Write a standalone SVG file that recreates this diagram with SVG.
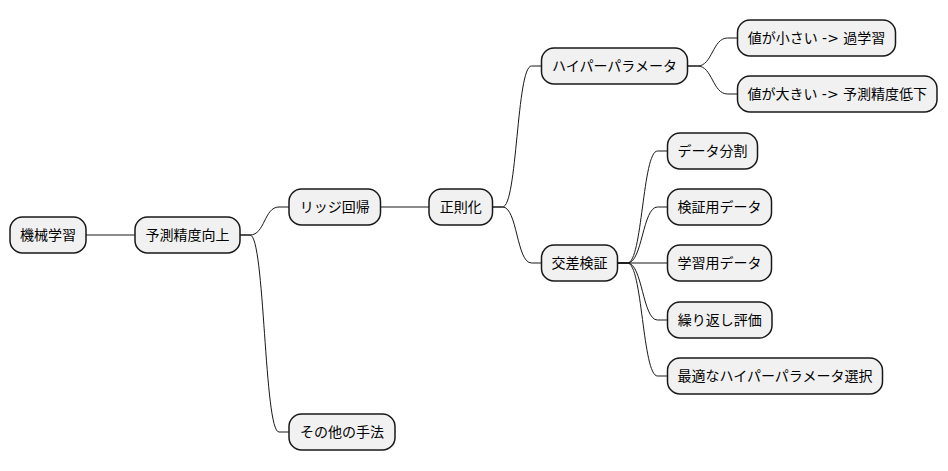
<svg xmlns="http://www.w3.org/2000/svg" width="948" height="471" viewBox="0 0 948 471">
<style>
.n rect{fill:#F1F1F1;stroke:#181818;stroke-width:1.5}
.n text{font-family:"DejaVu Sans","Noto Sans CJK JP",sans-serif;font-size:14px;fill:#000;text-anchor:middle}
.c path{fill:none;stroke:#181818;stroke-width:1}
</style>
<rect width="948" height="471" fill="#FFFFFF"/>
<g class="c" id="connectors">
<path d="M86,235 L135,235"/>
<path d="M240,235 L250,235 C265,235 264,207 279,207 L289,207"/>
<path d="M240,235 L250,235 C265,235 264,432 279,432 L289,432"/>
<path d="M380.5,207 L429,207"/>
<path d="M492.5,207 L502.5,207 C517.5,207 516.5,66 531.5,66 L541.5,66"/>
<path d="M492.5,207 L502.5,207 C517.5,207 516.5,263 531.5,263 L541.5,263"/>
<path d="M687.5,66 L697.5,66 C712.5,66 712.5,38 727.5,38 L737.5,38"/>
<path d="M687.5,66 L697.5,66 C712.5,66 712.5,94 727.5,94 L737.5,94"/>
<path d="M617.5,263 L627.5,263 C642.5,263 642.5,151 657.5,151 L667.5,151"/>
<path d="M617.5,263 L627.5,263 C642.5,263 642.5,207 657.5,207 L667.5,207"/>
<path d="M617.5,263 L667.5,263"/>
<path d="M617.5,263 L627.5,263 C642.5,263 642.5,320 657.5,320 L667.5,320"/>
<path d="M617.5,263 L627.5,263 C642.5,263 642.5,376 657.5,376 L667.5,376"/>
</g>
<g class="n" id="n1"><rect x="10" y="217" width="76" height="36" rx="12.5"/><text x="48" y="240">機械学習</text></g>
<g class="n" id="n2"><rect x="135" y="217" width="105" height="36" rx="12.5"/><text x="187.5" y="240">予測精度向上</text></g>
<g class="n" id="n3"><rect x="289" y="189" width="91.5" height="36" rx="12.5"/><text x="334.75" y="212">リッジ回帰</text></g>
<g class="n" id="n4"><rect x="429" y="189" width="63.5" height="36" rx="12.5"/><text x="460.75" y="212">正則化</text></g>
<g class="n" id="n5"><rect x="541.5" y="48" width="146" height="36" rx="12.5"/><text x="614.5" y="71">ハイパーパラメータ</text></g>
<g class="n" id="n6"><rect x="737.5" y="20" width="158" height="36" rx="12.5"/><text x="816.5" y="43">値が小さい -&gt; 過学習</text></g>
<g class="n" id="n7"><rect x="737.5" y="76" width="199.5" height="36" rx="12.5"/><text x="837.25" y="99">値が大きい -&gt; 予測精度低下</text></g>
<g class="n" id="n8"><rect x="541.5" y="245" width="76" height="36" rx="12.5"/><text x="579.5" y="268">交差検証</text></g>
<g class="n" id="n9"><rect x="667.5" y="133" width="90" height="36" rx="12.5"/><text x="712.5" y="156">データ分割</text></g>
<g class="n" id="n10"><rect x="667.5" y="189" width="104" height="36" rx="12.5"/><text x="719.5" y="212">検証用データ</text></g>
<g class="n" id="n11"><rect x="667.5" y="245" width="104" height="36" rx="12.5"/><text x="719.5" y="268">学習用データ</text></g>
<g class="n" id="n12"><rect x="667.5" y="302" width="104.5" height="36" rx="12.5"/><text x="719.75" y="325">繰り返し評価</text></g>
<g class="n" id="n13"><rect x="667.5" y="358" width="215" height="36" rx="12.5"/><text x="775" y="381">最適なハイパーパラメータ選択</text></g>
<g class="n" id="n14"><rect x="289" y="414" width="106" height="36" rx="12.5"/><text x="342" y="437">その他の手法</text></g>
</svg>
